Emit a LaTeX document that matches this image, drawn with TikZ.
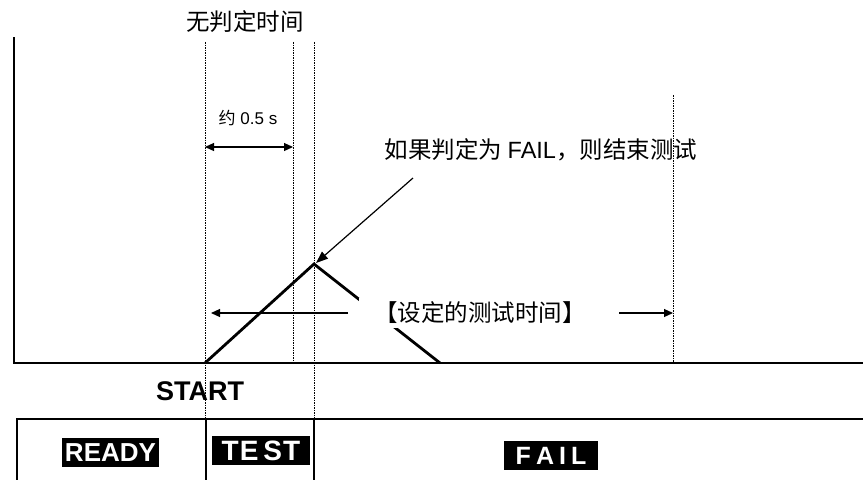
\documentclass[tikz,border=0pt]{standalone}
\usepackage{fontspec}
\setmainfont{Liberation Sans}
\newfontfamily\cjk{Noto Sans CJK SC}
\usetikzlibrary{arrows.meta,positioning}

\begin{document}
\begin{tikzpicture}[x=1pt,y=-1pt,
  axis/.style={line width=1.8pt},
  wave/.style={line width=2.8pt,line join=miter},
  guide/.style={line width=.8pt,dash pattern=on 1.5pt off 1pt},
  frame/.style={line width=1.1pt},
  f/.style={-{Triangle[length=9pt,width=8pt]},line width=1.2pt},
  ff/.style={{Triangle[length=9pt,width=8pt]}-{Triangle[length=9pt,width=8pt]},line width=1.2pt},
  lab/.style={font=\cjk\fontsize{23.5}{26}\selectfont,inner sep=1pt},
  small/.style={font=\fontsize{17}{19}\selectfont,inner sep=1pt},
  state/.style={fill=black,text=white,font=\bfseries\fontsize{26}{28}\selectfont,
    inner sep=0pt,minimum height=29pt}]
\useasboundingbox (0,0) rectangle (863,480);
% axes and time points
\coordinate (ytop) at (14,37);
\coordinate (o) at (14,363);
\coordinate (xend) at (863,363);
\coordinate (start) at (205,363);
\coordinate (peak) at (314,264);
\coordinate (stop) at (440,363);
\draw[axis] (ytop) -- (o) -- (xend);
% dotted guides
\draw[guide] (205,42) -- (205,419);
\draw[guide] (293,42) -- (293,363);
\draw[guide] (314,42) -- (314,419);
\draw[guide] (673,95) -- (673,363);
% labels
\node[lab] (nojudge) at (245,22) {无判定时间};
\node[small] (halfsec) at (248,118) {{\cjk 约} 0.5 s};
\node[lab] (failnote) at (541,150) {如果判定为 {\rmfamily FAIL}，则结束测试};
% ramp
\draw[wave] (start) -- (peak) -- (stop);
\node[lab,fill=white,inner xsep=15pt,inner ysep=4pt] (settime) at (480,313) {【设定的测试时间】};
% arrows
\coordinate (spanl) at (205,147);
\coordinate (spanr) at (293,147);
\coordinate (setl) at (348,313);
\coordinate (setlend) at (211,313);
\coordinate (setr) at (619,313);
\coordinate (setrend) at (673,313);
\coordinate (note) at (413,178);
\coordinate (peaktip) at (316,263);
\draw[ff] (spanl) -- (spanr);
\draw[f] (setl) -- (setlend);
\draw[f] (setr) -- (setrend);
\draw[f,-{Triangle[length=12pt,width=9pt]}] (note) -- (peaktip);
% START and state bar
\node[font=\bfseries\fontsize{27}{29}\selectfont,inner sep=0pt] (startlab) at (200,391) {START};
\draw[frame] (863,419) -- (17,419) -- (17,480);
\draw[frame] (206,419) -- (206,480);
\draw[frame] (314,419) -- (314,480);
\node[state,minimum width=97pt] (ready) at (110.5,452.5) {READY};
\node[state,minimum width=98pt,font=\bfseries\fontsize{28}{30}\selectfont] (test) at (261,450.5) {T\kern1pt E\kern5pt S\kern1pt T};
\node[state,minimum width=94pt,font=\bfseries\fontsize{25}{27}\selectfont] (fail) at (551,455.5) {F\kern5pt A\kern5pt I\kern5pt L};
\end{tikzpicture}
\end{document}
